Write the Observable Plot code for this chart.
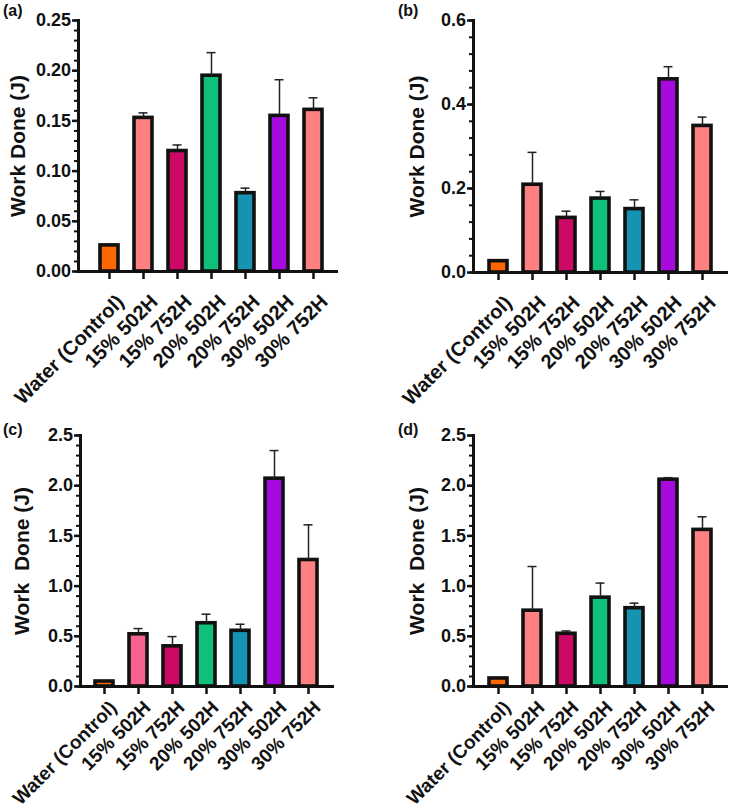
<!DOCTYPE html>
<html><head><meta charset="utf-8">
<script src="https://cdn.jsdelivr.net/npm/d3@7"></script>
<script src="https://cdn.jsdelivr.net/npm/@observablehq/plot@0.6"></script>
<style>
body{margin:0;background:#fff;}
#root{position:relative;width:731px;height:812px;font-family:"Liberation Sans",Arial,sans-serif;overflow:hidden;}
.panel{position:absolute;}
.tag{position:absolute;font-weight:bold;font-size:16px;color:#111;}
</style>
</head><body><div id="root"></div>
<script>
// ---- data ----
const categories = ["Water (Control)", "15% 502H", "15% 752H", "20% 502H", "20% 752H", "30% 502H", "30% 752H"];

const valuesA = [0.026, 0.153, 0.120, 0.195, 0.078, 0.155, 0.161];
const errorsA = [0, 0.005, 0.006, 0.023, 0.005, 0.036, 0.012];

const valuesB = [0.027, 0.209, 0.130, 0.176, 0.151, 0.460, 0.349];
const errorsB = [0, 0.077, 0.016, 0.017, 0.022, 0.030, 0.021];

const valuesC = [0.05, 0.52, 0.40, 0.63, 0.555, 2.07, 1.26];
const errorsC = [0, 0.057, 0.097, 0.09, 0.065, 0.28, 0.35];

const valuesD = [0.08, 0.755, 0.525, 0.885, 0.78, 2.06, 1.56];
const errorsD = [0, 0.44, 0.028, 0.145, 0.05, 0.02, 0.13];

const ticksA = [0, 0.05, 0.10, 0.15, 0.20, 0.25];
const ticksB = [0, 0.2, 0.4, 0.6];
const ticksCD = [0, 0.5, 1.0, 1.5, 2.0, 2.5];

const panelTags = ["(a)", "(b)", "(c)", "(d)"];
const yLabels = ["Work Done (J)", "Work Done (J)", "Work\u00A0 Done (J)", "Work\u00A0 Done (J)"];

// ---- styles ----
const palette = ["#FF6600", "#FF8080", "#CC0A66", "#0FBF7A", "#1693B0", "#A60ADF", "#FF8080"];
const paletteC = ["#FF6600", "#F7628F", "#CC0A66", "#0FBF7A", "#1693B0", "#A60ADF", "#FF8080"];

function makePanel(cfg) {
  const rows = categories.map((c, i) => ({cat: c, value: cfg.values[i], err: cfg.errors[i], color: cfg.colors[i]}));
  const withErr = rows.filter(d => d.err > 0);
  const ymax = cfg.ticks[cfg.ticks.length - 1];
  const nMinor = Math.round(ymax / cfg.minorStep);
  const minor = d3.range(nMinor + 1).map(i => i * cfg.minorStep);
  return Plot.plot({
    width: cfg.width, height: cfg.height,
    marginLeft: cfg.ml, marginRight: cfg.mr, marginTop: cfg.mt, marginBottom: cfg.mb,
    style: {fontFamily: '"Liberation Sans", Arial, sans-serif', color: "#111", background: "transparent", overflow: "visible"},
    x: {domain: categories, paddingInner: 0.46, paddingOuter: cfg.po, align: cfg.align, axis: null},
    y: {domain: [0, ymax], axis: null},
    color: {type: "identity"},
    marks: [
      Plot.barY(rows, {x: "cat", y: "value", fill: "color", stroke: "#111", strokeWidth: 3.6}),
      Plot.ruleX(withErr, {x: "cat", y1: "value", y2: d => d.value + d.err, stroke: "#222", strokeWidth: 1.5}),
      Plot.tickY(withErr, {x: "cat", y: d => d.value + d.err, stroke: "#222", strokeWidth: 1.5, insetLeft: 4.5, insetRight: 4.5}),
      Plot.axisY({ticks: minor, tickSize: 4, tickFormat: () => "", strokeWidth: 2, label: null}),
      Plot.axisY({ticks: cfg.ticks, tickSize: 6, tickPadding: 1.5, tickFormat: d => d.toFixed(cfg.dec), strokeWidth: 2.5, label: null, fill: "#111", fontSize: 18, fontWeight: "bold"}),
      Plot.frame({anchor: "left", stroke: "#111", strokeWidth: 3}),
      Plot.ruleY([0], {stroke: "#111", strokeWidth: 3}),
      Plot.axisX({tickSize: 8, tickFormat: () => "", strokeWidth: 2.5, label: null}),
      Plot.text(categories, {x: d => d, frameAnchor: "bottom", rotate: -45, textAnchor: "end", lineAnchor: "middle",
        dx: cfg.xdx, dy: cfg.xdy, fontSize: cfg.xfs, fontWeight: "bold", fill: "#111"}),
      Plot.text([cfg.yLabel], {frameAnchor: "left", rotate: -90, textAnchor: "middle", lineAnchor: "middle", dx: cfg.ylDx, fontSize: 21, fontWeight: "bold", fill: "#111"})
    ]
  });
}

const root = document.getElementById("root");
const configs = [
  {left: 0, top: 0, width: 365, height: 420, ml: 78, mr: 27, mt: 20, mb: 149, po: 0.55, align: 0.58,
   values: valuesA, errors: errorsA, colors: palette, ticks: ticksA, minorStep: 0.01, dec: 2, xdx: 11, xdy: 27, xfs: 20, ylDx: -60},
  {left: 365, top: 0, width: 366, height: 420, ml: 108, mr: 3, mt: 20, mb: 148, po: 0.47, align: 0.48,
   values: valuesB, errors: errorsB, colors: palette, ticks: ticksB, minorStep: 0.04, dec: 1, xdx: 10, xdy: 27, xfs: 20, ylDx: -56},
  {left: 0, top: 420, width: 365, height: 392, ml: 80, mr: 31, mt: 15, mb: 126, po: 0.43, align: 0.47,
   values: valuesC, errors: errorsC, colors: paletteC, ticks: ticksCD, minorStep: 0.1, dec: 1, xdx: 9, xdy: 18, xfs: 19, ylDx: -58},
  {left: 365, top: 420, width: 366, height: 392, ml: 108, mr: 3, mt: 15, mb: 126, po: 0.47, align: 0.48,
   values: valuesD, errors: errorsD, colors: palette, ticks: ticksCD, minorStep: 0.1, dec: 1, xdx: 9, xdy: 18, xfs: 19, ylDx: -56}
];
const tagPos = [[3, 2], [398, 2], [3, 421], [398, 421]];

configs.forEach((cfg, i) => {
  cfg.yLabel = yLabels[i];
  const div = document.createElement("div");
  div.className = "panel";
  div.style.left = cfg.left + "px";
  div.style.top = cfg.top + "px";
  div.appendChild(makePanel(cfg));
  root.appendChild(div);
  const tag = document.createElement("div");
  tag.className = "tag";
  tag.textContent = panelTags[i];
  tag.style.left = tagPos[i][0] + "px";
  tag.style.top = tagPos[i][1] + "px";
  root.appendChild(tag);
});
</script>
</body></html>
